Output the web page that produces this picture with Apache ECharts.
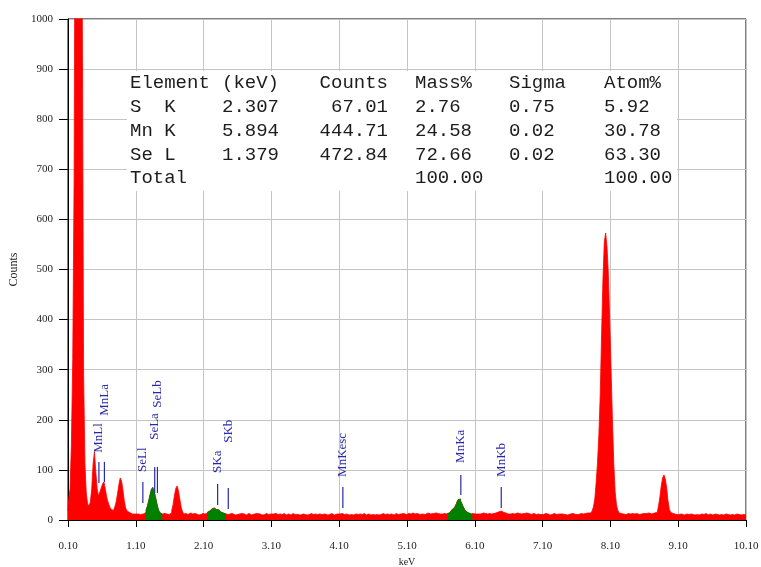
<!DOCTYPE html>
<html>
<head>
<meta charset="utf-8">
<script src="https://cdn.jsdelivr.net/npm/echarts@6/dist/echarts.min.js"></script>
<style>
  html, body { margin: 0; padding: 0; background: #ffffff; }
  #chart { width: 761px; height: 567px; }
</style>
</head>
<body>
<div id="chart"></div>
<script>
// EDS spectrum: channel energies start at 0.10 keV, 0.02 keV per channel
const energyStart = 0.10;
const energyStep = 0.02;

// Counts per channel, 25 channels (0.5 keV) per row
const counts = [
  18, 42, 62, 150, 320, 680, 1500, 2000, 2200, 2000, 1500, 1050, 290, 112, 52, 32, 28, 36, 62, 112, 136, 96, 62, 48, 56,
  64, 72, 76, 62, 46, 36, 28, 22, 19, 22, 26, 36, 52, 70, 84, 78, 60, 38, 24, 18, 15, 14, 12, 15, 12,
  14, 12, 13, 11, 14, 12, 13, 15, 19, 27, 38, 50, 61, 65, 57, 46, 33, 22, 15, 12, 11, 13, 11, 12, 11,
  12, 14, 19, 31, 49, 63, 68, 58, 41, 25, 16, 12, 13, 11, 12, 14, 11, 12, 13, 11, 12, 10, 12, 11, 13,
  11, 12, 13, 15, 17, 19, 21, 23, 24, 21, 23, 20, 18, 16, 14, 13, 12, 13, 11, 12, 13, 11, 12, 10, 12,
  11, 12, 10, 13, 11, 12, 10, 11, 13, 12, 10, 11, 12, 11, 13, 10, 12, 11, 10, 12, 11, 13, 10, 11, 12,
  10, 12, 11, 13, 10, 11, 12, 10, 11, 13, 11, 10, 12, 11, 10, 12, 13, 11, 10, 11, 12, 10, 11, 12, 10,
  11, 10, 12, 11, 13, 10, 11, 12, 10, 11, 12, 13, 11, 10, 12, 11, 10, 12, 11, 13, 12, 10, 11, 12, 11,
  12, 11, 13, 10, 11, 12, 11, 10, 12, 11, 10, 11, 12, 10, 11, 12, 10, 11, 13, 11, 10, 12, 11, 10, 12,
  11, 10, 12, 11, 10, 12, 11, 13, 10, 11, 12, 10, 11, 12, 11, 10, 12, 13, 11, 10, 12, 11, 13, 12, 11,
  12, 13, 11, 12, 14, 11, 12, 13, 12, 11, 14, 12, 13, 11, 12, 14, 13, 12, 11, 13, 12, 14, 12, 13, 12,
  13, 12, 14, 13, 12, 13, 14, 16, 19, 22, 25, 28, 33, 40, 42, 38, 32, 26, 21, 17, 14, 13, 12, 12, 13,
  12, 13, 12, 14, 12, 13, 14, 12, 13, 12, 14, 13, 12, 14, 13, 14, 15, 16, 17, 18, 17, 15, 13, 14, 12,
  13, 12, 14, 13, 12, 13, 14, 12, 13, 12, 11, 13, 12, 14, 12, 13, 11, 12, 13, 12, 11, 13, 12, 11, 12,
  11, 12, 13, 11, 12, 10, 12, 11, 13, 12, 11, 10, 12, 11, 12, 13, 11, 12, 10, 11, 12, 11, 13, 12, 11,
  12, 11, 12, 13, 11, 12, 13, 12, 14, 13, 14, 15, 18, 26, 42, 75, 115, 170, 250, 370, 480, 555, 573, 545, 490,
  400, 300, 200, 112, 56, 30, 19, 14, 13, 12, 13, 11, 12, 13, 11, 12, 13, 11, 12, 13, 12, 11, 13, 12, 13,
  12, 13, 12, 14, 13, 12, 13, 14, 13, 15, 18, 28, 46, 68, 84, 90, 82, 64, 38, 21, 15, 13, 12, 11, 12,
  11, 10, 12, 11, 10, 11, 12, 10, 11, 12, 10, 11, 10, 12, 11, 10, 11, 12, 10, 11, 13, 11, 10, 12, 11,
  10, 11, 12, 10, 11, 10, 12, 11, 10, 11, 12, 10, 11, 10, 12, 11, 10, 11, 12, 10, 11, 10, 9, 11, 10,
  10
];

// Energy windows of the quantified peaks (Se L, S K, Mn K), shaded green
const roiRanges = [[1.25, 1.48], [2.15, 2.42], [5.70, 6.06]];

// Line markers: name, energy (keV), marker bottom, marker top, label start (counts)
const markerNames = ['MnLl', 'MnLa', 'SeLl', 'SeLa', 'SeLb', 'SKa', 'SKb', 'MnKesc', 'MnKa', 'MnKb'];
const markerEnergy = [0.556, 0.637, 1.204, 1.379, 1.419, 2.307, 2.464, 4.154, 5.894, 6.490];
const markerLow = [74, 76, 34, 54, 54, 30, 22, 24, 50, 24];
const markerHigh = [116, 116, 76, 106, 106, 72, 64, 66, 90, 66];
const markerLabelAt = [134, 208, 96, 160, 224, 94, 154, 86, 114, 86];

// Quantification table
const tableHeader = ['Element', '(keV)', 'Counts', 'Mass%', 'Sigma', 'Atom%'];
const tableRows = [
  ['S  K', '2.307', '67.01', '2.76', '0.75', '5.92'],
  ['Mn K', '5.894', '444.71', '24.58', '0.02', '30.78'],
  ['Se L', '1.379', '472.84', '72.66', '0.02', '63.30'],
  ['Total', '', '', '100.00', '', '100.00']
];

const xTicks = { min: 0.1, max: 10.1, interval: 1 };
const yTicks = { min: 0, max: 1000, interval: 100 };

// ---- build series data ----
const spectrum = counts.map((c, i) => [Math.round((energyStart + i * energyStep) * 100) / 100, c]);
const inRoi = e => roiRanges.some(r => e >= r[0] - 1e-9 && e <= r[1] + 1e-9);
const roiSpectrum = spectrum.map(p => inRoi(p[0]) ? p : [p[0], null]);
const markerData = markerNames.map((n, i) => ({
  name: n,
  value: [markerEnergy[i], markerLow[i], markerHigh[i], markerLabelAt[i]]
}));

// ---- table as graphic text ----
const tableFont = '19px "Liberation Mono", monospace';
const colX = [130, 222, 388, 415, 509, 604];
const colAlign = ['left', 'left', 'right', 'left', 'left', 'left'];
const rowY = [83, 107, 131, 155, 178];
const tableGraphics = [{
  type: 'rect', left: 127, top: 71, z: 5,
  shape: { width: 550, height: 120 },
  style: { fill: '#ffffff' }
}];
[tableHeader].concat(tableRows).forEach((row, r) => {
  row.forEach((cell, c) => {
    if (!cell) return;
    tableGraphics.push({
      type: 'text', x: colX[c], y: rowY[r], z: 6,
      style: {
        text: cell, font: tableFont, fill: '#1c1c1c',
        textAlign: colAlign[c], textVerticalAlign: 'middle'
      }
    });
  });
});

const chart = echarts.init(document.getElementById('chart'), null, { renderer: 'canvas' });
const axisFont = { fontFamily: 'Liberation Serif', fontSize: 11, color: '#222' };

chart.setOption({
  animation: false,
  backgroundColor: '#ffffff',
  grid: {
    left: 68, right: 15, top: 19, bottom: 47,
    containLabel: false, outerBoundsMode: 'none',
    show: true, borderColor: '#000', borderWidth: 1, backgroundColor: '#ffffff'
  },
  graphic: tableGraphics,
  xAxis: {
    type: 'value', min: xTicks.min, max: xTicks.max, interval: xTicks.interval,
    name: 'keV', nameLocation: 'middle', nameGap: 35,
    nameTextStyle: { fontFamily: 'Liberation Serif', fontSize: 10, color: '#222' },
    axisLine: { lineStyle: { color: '#000', width: 1 } },
    axisTick: { show: true, length: 7, lineStyle: { color: '#000' } },
    axisLabel: Object.assign({ margin: 21, formatter: v => v.toFixed(2) }, axisFont),
    splitLine: { show: true, lineStyle: { color: '#c4c4c4', width: 1 } }
  },
  yAxis: {
    type: 'value', min: yTicks.min, max: yTicks.max, interval: yTicks.interval,
    name: 'Counts', nameLocation: 'middle', nameGap: 33, nameRotate: 90,
    nameTextStyle: { fontFamily: 'Liberation Serif', fontSize: 12, color: '#222' },
    axisLine: { show: true, lineStyle: { color: '#000', width: 1 } },
    axisTick: { show: true, length: 9, lineStyle: { color: '#000' } },
    axisLabel: Object.assign({ margin: 15, formatter: v => String(v) }, axisFont),
    splitLine: { show: true, lineStyle: { color: '#c4c4c4', width: 1 } }
  },
  series: [
    {
      name: 'Spectrum', type: 'line', data: spectrum, step: 'middle',
      symbol: 'none', sampling: null, clip: true, z: 2,
      lineStyle: { color: '#ff0000', width: 0.8 },
      areaStyle: { color: '#ff0000', opacity: 1 }
    },
    {
      name: 'Peak windows', type: 'line', data: roiSpectrum, step: 'middle',
      symbol: 'none', connectNulls: false, clip: true, z: 3,
      lineStyle: { color: '#008000', width: 0.8 },
      areaStyle: { color: '#008000', opacity: 1 }
    },
    {
      name: 'Line markers', type: 'custom', data: markerData, z: 4,
      renderItem: function (params, api) {
        const e = api.value(0);
        const p0 = api.coord([e, api.value(1)]);
        const p1 = api.coord([e, api.value(2)]);
        const pl = api.coord([e, api.value(3)]);
        return {
          type: 'group',
          children: [
            {
              type: 'line',
              shape: { x1: p0[0], y1: p0[1], x2: p1[0], y2: p1[1] },
              style: { stroke: '#2a2aa8', lineWidth: 1.2 }
            },
            {
              type: 'text', x: pl[0], y: pl[1], rotation: Math.PI / 2,
              style: {
                text: markerNames[params.dataIndex],
                font: '13px "Liberation Serif", serif', fill: '#2a2aa8',
                textAlign: 'left', textVerticalAlign: 'middle'
              }
            }
          ]
        };
      }
    }
  ]
});
</script>
</body>
</html>
